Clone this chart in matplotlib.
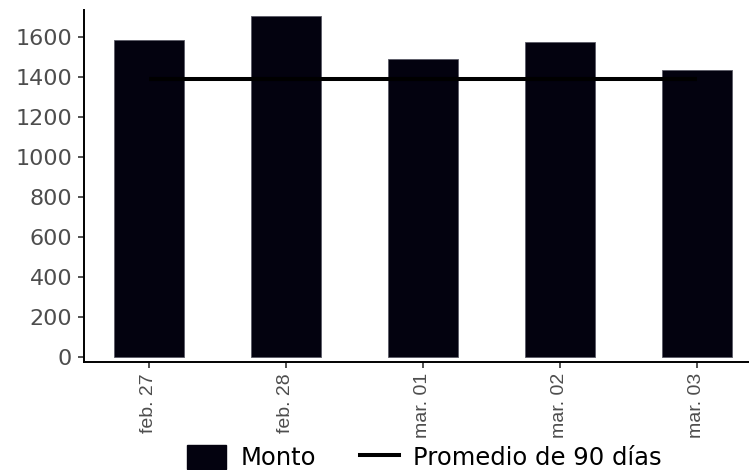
import matplotlib
matplotlib.use("Agg")
import matplotlib.pyplot as plt
from matplotlib.patches import Patch
from matplotlib.lines import Line2D

categories = ["feb. 27", "feb. 28", "mar. 01", "mar. 02", "mar. 03"]
monto = [1585, 1705, 1488, 1577, 1433]
promedio_90 = [1390, 1390, 1390, 1390, 1390]
yticks = [0, 200, 400, 600, 800, 1000, 1200, 1400, 1600]

W, H = 749, 470
fig = plt.figure(figsize=(W / 100, H / 100), dpi=100)
left_px, right_px, top_px, bottom_px = 84, 749, 10, 362
ax = fig.add_axes([left_px / W, (H - bottom_px) / H,
                   (right_px - left_px) / W, (bottom_px - top_px) / H])

x = list(range(len(categories)))
ax.bar(x, monto, width=0.51, color="#03020f", edgecolor="#5a5a66",
       linewidth=0.6, zorder=2)
ax.plot(x, promedio_90, color="black", linewidth=2.9, zorder=3,
        solid_capstyle="butt")

ax.set_xlim(-0.474, 4.38)
ax.set_ylim(-25, 1735)
ax.set_xticks(x)
ax.set_xticklabels(categories, rotation=90, family="Liberation Sans",
                   fontsize=14, color="#4d4d4d")
ax.set_yticks(yticks)
ax.set_yticklabels([str(v) for v in yticks], family="DejaVu Sans",
                   fontsize=16, color="#4d4d4d")

for s in ["top", "right"]:
    ax.spines[s].set_visible(False)
for s in ["left", "bottom"]:
    ax.spines[s].set_linewidth(1.4)
    ax.spines[s].set_color("black")
ax.tick_params(axis="both", length=4.5, width=1.2, color="#333333")
ax.tick_params(axis="y", pad=4)
ax.tick_params(axis="x", pad=3.5)

handles = [Patch(facecolor="#03020f", edgecolor="#03020f", label="Monto"),
           Line2D([0], [0], color="black", linewidth=2.9, label="Promedio de 90 días")]
fig.legend(handles=handles, loc="lower left",
           bbox_to_anchor=(187 / W, 0.0),
           ncol=2, frameon=False, prop={"family": "DejaVu Sans", "size": 17.5},
           handlelength=1.6, handleheight=1.15, handletextpad=0.6,
           columnspacing=1.8, borderpad=0, borderaxespad=0)

fig.savefig("out.png", dpi=100)
